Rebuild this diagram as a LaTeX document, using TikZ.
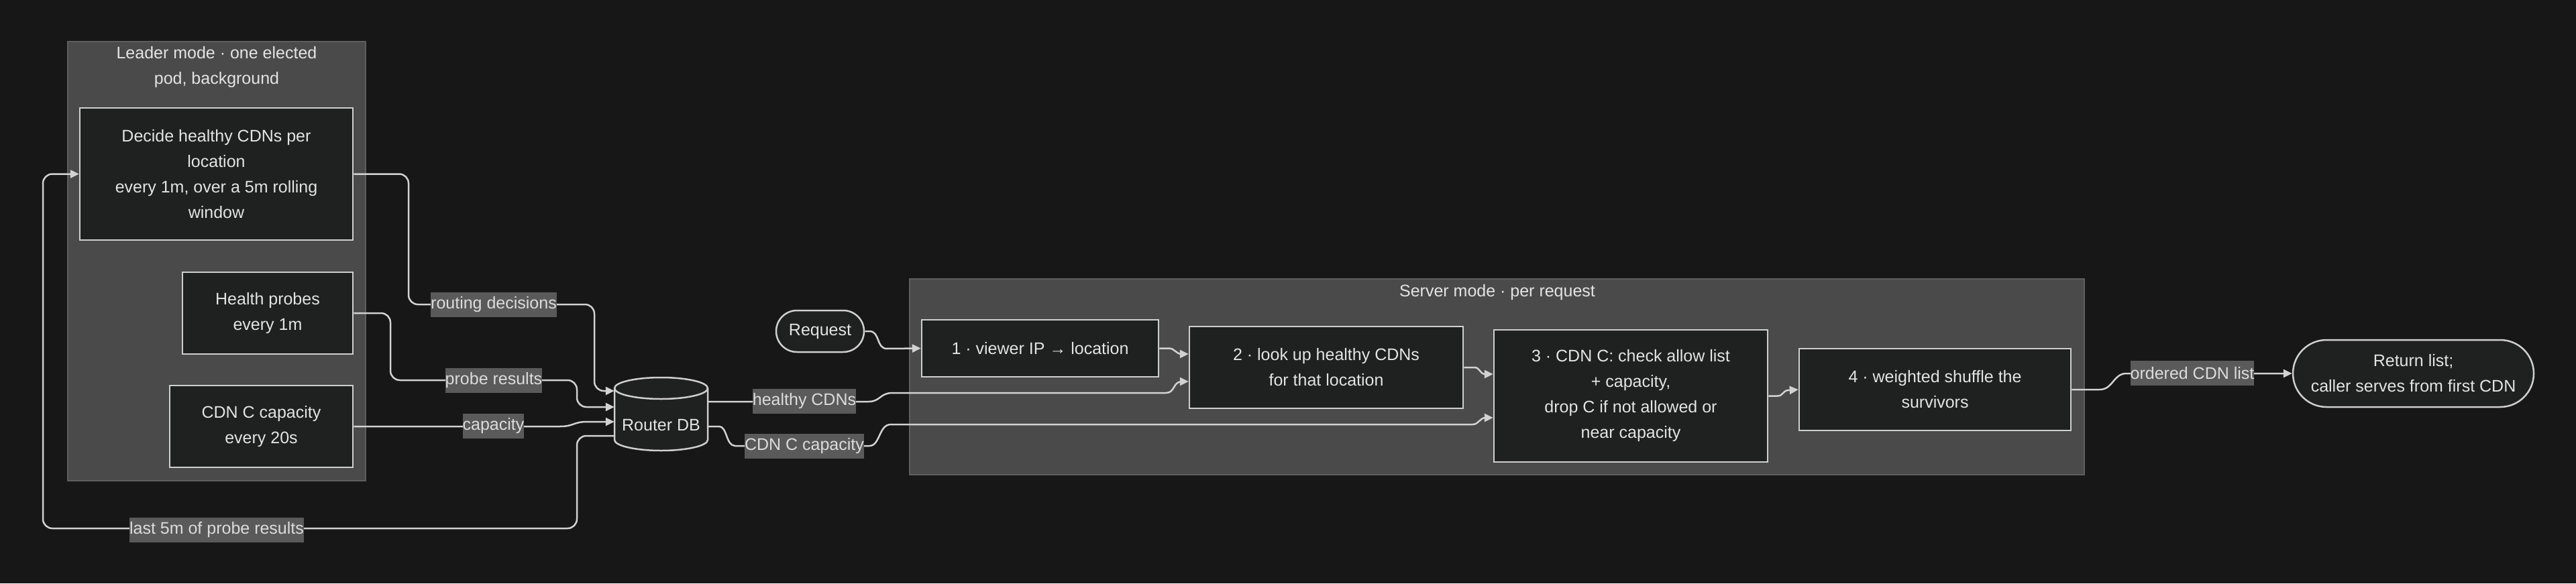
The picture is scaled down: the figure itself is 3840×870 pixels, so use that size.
\documentclass[tikz,border=0pt]{standalone}
\usepackage{fontspec}
\setmainfont{Liberation Sans}
\usetikzlibrary{arrows.meta}
\definecolor{bg}{HTML}{171717}
\definecolor{clfill}{HTML}{4A4A4A}
\definecolor{clborder}{HTML}{5E5E5E}
\definecolor{nodefill}{HTML}{1F2020}
\definecolor{nodeborder}{HTML}{CFCFCF}
\definecolor{edgecol}{HTML}{D2D2D2}
\definecolor{txtcol}{HTML}{E4E4E4}
\definecolor{lblfill}{HTML}{5A5A5A}
\definecolor{lbltxt}{HTML}{DCDCDC}
\begin{document}
\begin{tikzpicture}[x=1pt,y=-1pt,
  font=\fontsize{25}{38}\selectfont,
  cluster/.style={draw=clborder, fill=clfill, line width=2pt, inner sep=0pt},
  ctitle/.style={text=txtcol, align=center, inner sep=0pt},
  box/.style={draw=nodeborder, fill=nodefill, line width=2.5pt, text=txtcol, align=center, inner sep=0pt},
  txt/.style={text=txtcol, align=center, inner sep=0pt},
  lbl/.style={fill=lblfill, text=lbltxt, inner xsep=0pt, inner ysep=0pt, minimum height=37pt},
  edgec/.style={draw=edgecol, line width=2.5pt, -{Triangle[length=13pt,width=12pt]}},
  edge/.style={edgec, rounded corners=14pt},
  dbline/.style={draw=nodeborder, line width=2.5pt}
]
\fill[bg] (0,0) rectangle (3840,870);
\useasboundingbox (0,0) rectangle (3840,870);

% clusters
\node[cluster, minimum width=444pt, minimum height=655pt] (leader) at (323,389.5) {};
\node[ctitle] (leadert) at (323,100.5) {Leader mode · one elected\\pod, background};
\node[cluster, minimum width=1751pt, minimum height=292pt] (server) at (2231.5,562) {};
\node[ctitle] (servert) at (2232,436) {Server mode · per request};

% leader nodes
\node[box, minimum width=407pt, minimum height=197pt] (dec) at (322.5,259.5) {Decide healthy CDNs per\\location\\every 1m, over a 5m rolling\\window};
\node[box, minimum width=254pt, minimum height=122pt] (hp) at (399,467) {Health probes\\every 1m};
\node[box, minimum width=273pt, minimum height=122pt] (cap) at (389.5,636) {CDN C capacity\\every 20s};

% router db cylinder
\node[inner sep=0pt, minimum width=139pt, minimum height=109pt] (db) at (985.5,617.5) {};
\filldraw[dbline, fill=nodefill] (916,579) -- (916,656)
  arc[start angle=180, end angle=0, x radius=69.5, y radius=16] -- (1055,579)
  arc[start angle=0, end angle=-180, x radius=69.5, y radius=16] -- cycle;
\draw[dbline] (916,579) arc[start angle=180, end angle=0, x radius=69.5, y radius=16];
\node[txt] (dbt) at (985.5,634) {Router DB};

% server nodes
\node[box, rounded corners=31pt, minimum width=131pt, minimum height=62pt] (req) at (1222.5,494) {Request};
\node[box, minimum width=353pt, minimum height=85pt] (s1) at (1550.5,519.5) {1 · viewer IP → location};
\node[box, minimum width=408pt, minimum height=122pt] (s2) at (1977,548) {2 · look up healthy CDNs\\for that location};
\node[box, minimum width=408pt, minimum height=197pt] (s3) at (2431,590.5) {3 · CDN C: check allow list\\+ capacity,\\drop C if not allowed or\\near capacity};
\node[box, minimum width=405pt, minimum height=122pt] (s4) at (2884.5,581) {4 · weighted shuffle the\\survivors};
\node[box, rounded corners=50pt, minimum width=359pt, minimum height=100pt] (ret) at (3597.5,557) {Return list;\\caller serves from first CDN};

% edges
\draw[edge] (dec.east) -- (609,259.5) -- (609,454) -- (886,454) -- (886,583) -- ([yshift=34.5pt]db.west);
\draw[edge] (hp.east) -- (582,467) -- (582,567) -- (860,567) -- (860,607) -- ([yshift=10.5pt]db.west);
\draw[edgec] (cap.east) -- (835,636) .. controls (855,636) and (855,629) .. (875,629) -- ([yshift=-11.5pt]db.west);
\draw[edge] ([yshift=-32.5pt]db.west) -- (860,650) -- (860,788) -- (64,788) -- (64,259.5) -- (dec.west);
\draw[edgec] (req.east) -- (1296,494) .. controls (1312,494) and (1306,520) .. (1322,520) -- (s1.west);
\draw[edgec] (s1.east) -- (1742,519.5) .. controls (1752,519.5) and (1752,528) .. (1762,528) -- ([yshift=20pt]s2.west);
\draw[edgec] ([yshift=18.5pt]db.east) -- (1295,599) .. controls (1312,599) and (1312,586) .. (1330,586) -- (1738,586) .. controls (1752,586) and (1748,569) .. (1762,569) -- ([yshift=-21pt]s2.west);
\draw[edgec] ([yshift=-18.5pt]db.east) -- (1072,636) .. controls (1084,636) and (1082,665) .. (1096,665) -- (1296,665) .. controls (1312,665) and (1310,633) .. (1328,633) -- (2195,633) .. controls (2205,633) and (2205,623) .. (2215,623) -- ([yshift=-32.5pt]s3.west);
\draw[edgec] (s2.east) -- (2198,548) .. controls (2206,548) and (2206,558) .. (2214,558) -- ([yshift=32.5pt]s3.west);
\draw[edgec] (s3.east) -- (2650,590.5) .. controls (2658,590.5) and (2658,582) .. (2666,582) -- (s4.west);
\draw[edgec] (s4.east) -- (3130,581) .. controls (3150,581) and (3150,557) .. (3170,557) -- (ret.west);

% edge labels
\node[lbl] (l1) at (736,454.5) {routing decisions};
\node[lbl] (l2) at (736,567) {probe results};
\node[lbl] (l3) at (735.5,635.5) {capacity};
\node[lbl] (l4) at (323,790) {last 5m of probe results};
\node[lbl] (l5) at (1199,598.5) {healthy CDNs};
\node[lbl] (l6) at (1199,665.5) {CDN C capacity};
\node[lbl] (l7) at (3268,556.5) {ordered CDN list};
\end{tikzpicture}
\end{document}
